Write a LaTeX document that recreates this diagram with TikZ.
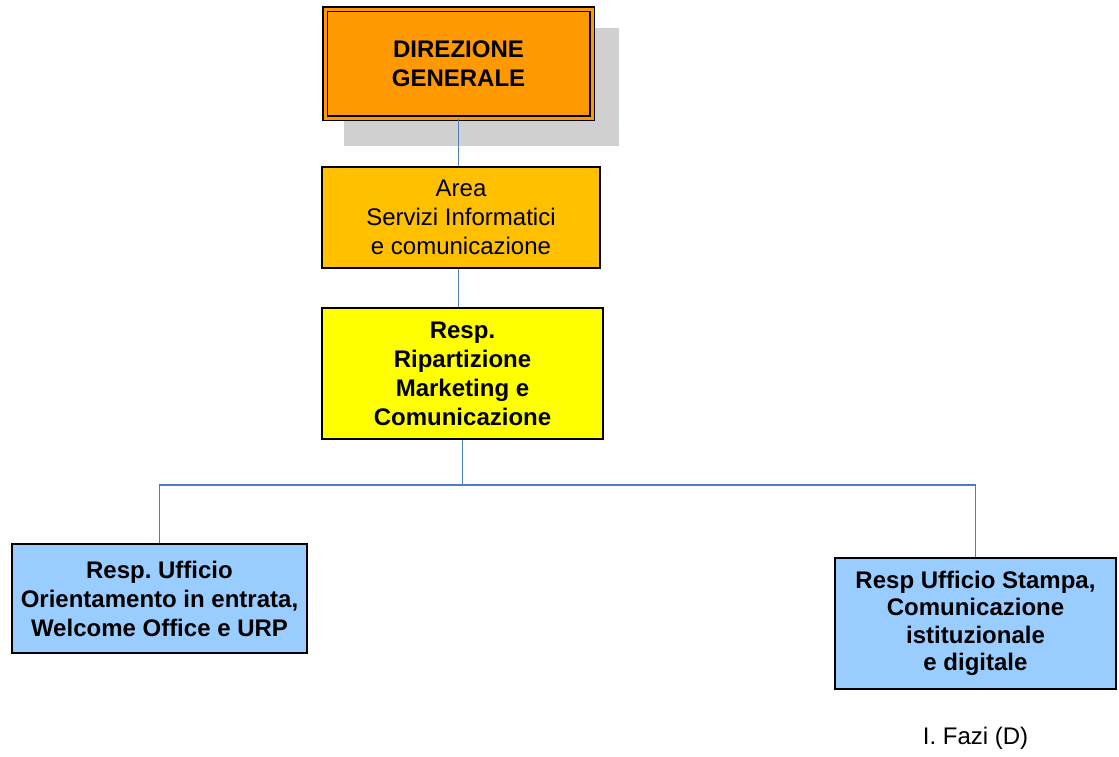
\documentclass[tikz,border=0pt]{standalone}
\usepackage{fontspec}
\setmainfont{Liberation Sans}
\usetikzlibrary{backgrounds}
\frenchspacing

\definecolor{dgorange}{HTML}{FF9900}
\definecolor{areaorange}{HTML}{FFC000}
\definecolor{ripyellow}{HTML}{FFFF00}
\definecolor{uffblue}{HTML}{99CCFF}
\definecolor{linkblue}{HTML}{4A7EBB}
\definecolor{shadowgray}{HTML}{D0D0D0}

\tikzset{
  box/.style={draw=black,line width=1.5pt,align=center,inner sep=0pt},
  boldtext/.style={font=\fontsize{24}{29}\selectfont\bfseries},
  plaintext/.style={font=\fontsize{24}{29}\selectfont},
  link/.style={draw=linkblue,line width=1.8pt}
}

\begin{document}
\begin{tikzpicture}[x=1pt,y=-1pt]
\useasboundingbox (0,0) rectangle (1119,756);

% Direzione generale with its shadow
\node[box,boldtext,fill=dgorange,double=dgorange,double distance=3pt,
  minimum width=267pt,minimum height=109pt] (dg) at (458.5,63.5) {DIREZIONE\\GENERALE};
\begin{scope}[on background layer]
\fill[shadowgray] ([xshift=20pt,yshift=-20pt]dg.north west) rectangle ([xshift=26pt,yshift=-27pt]dg.south east);
\end{scope}

% Area and Ripartizione
\node[box,plaintext,fill=areaorange,minimum width=278pt,minimum height=101pt] (area) at (461,217.5)
  {Area\\Servizi Informatici\\e comunicazione};
\node[box,boldtext,fill=ripyellow,minimum width=281pt,minimum height=131pt] (rip) at (462.5,373.5)
  {Resp.\\Ripartizione\\Marketing e\\Comunicazione};

% The two offices
\node[box,boldtext,fill=uffblue,minimum width=295pt,minimum height=109pt] (orient) at (159.5,598.5)
  {Resp. Ufficio\\Orientamento in entrata,\\Welcome Office e URP};
\node[box,fill=uffblue,minimum width=281pt,minimum height=131pt,
  font=\fontsize{24}{27.5}\selectfont\bfseries] (stampa) at (975.5,623.5)
  {Resp Ufficio Stampa,\\Comunicazione\\istituzionale\\e digitale};
\node[plaintext] (fazi) at (975.5,738) {I. Fazi (D)};

% Connectors
\coordinate (fork) at ([yshift=-45pt]rip.south);
\draw[link] (dg.south) -- (dg.south |- area.north);
\draw[link] (area.south -| dg.south) -- (rip.north -| dg.south);
\draw[link] (rip.south) -- (fork);
\draw[link] (orient.north) |- (fork) -| (stampa.north);

\end{tikzpicture}
\end{document}
